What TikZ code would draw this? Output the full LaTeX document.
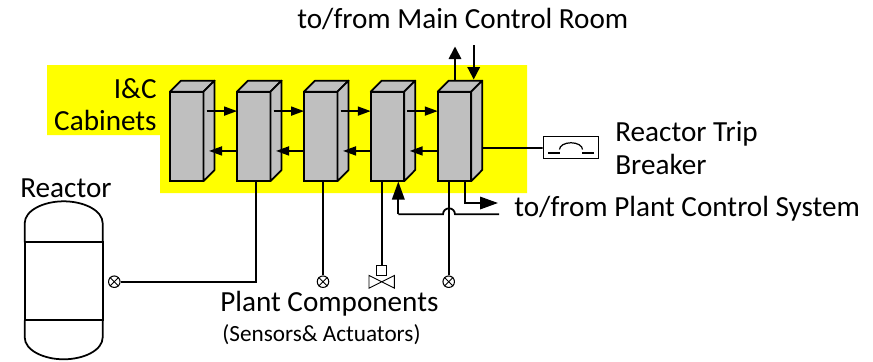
\documentclass[tikz,border=0pt]{standalone}
\usepackage{fontspec}
\setmainfont{Carlito}
\usetikzlibrary{arrows.meta}

\definecolor{cabgray}{HTML}{BFBFBF}
\definecolor{cabyellow}{HTML}{FFFF00}

\tikzset{
    cabinet/.style={draw, fill=cabgray, line width=1pt, minimum width=6.7mm,
        minimum height=17.9mm, inner sep=0pt, outer sep=0pt},
    face/.style={draw, fill=cabgray, line width=1pt, line join=round},
    wire/.style={draw, line width=1pt},
    link/.style={wire, -{Triangle[length=2.6mm,width=1.8mm]}},
    bigtip/.style={wire, -{Triangle[length=2.5mm,width=2.5mm]}},
    plant/.style={wire, -{Triangle[length=3.6mm,width=2.5mm]}},
    sensor/.style={draw, fill=white, circle, line width=0.6pt, minimum size=2.3mm, inner sep=0pt},
    thin part/.style={draw, line width=0.5pt},
    label/.style={font=\fontsize{16.6}{18.5}\selectfont, inner sep=0pt}
}

\begin{document}
\begin{tikzpicture}[x=0.2mm, y=-0.2mm, >=Triangle]

\useasboundingbox (0,0) rectangle (873,361);

% Yellow area
\fill[cabyellow] (47,65) -- (527,65) -- (527,193) -- (160,193) -- (160,135) -- (47,135) -- cycle;

% Cabinets
\foreach \i/\xc in {1/186.8, 2/253.8, 3/320.8, 4/387.5, 5/454.5} {
    \node[cabinet] (cab\i) at (\xc,136.4) {};
    \draw[face] (cab\i.north west) -- ++(11,-11) -- ++(33.5,0) -- (cab\i.north east) -- cycle;
    \draw[face] (cab\i.north east) -- ++(11,-11) -- ++(0,89.3) -- (cab\i.south east) -- cycle;
}

% Arrows between cabinets
\foreach \i/\j in {1/2, 2/3, 3/4, 4/5} {
    \coordinate (out\i) at ([yshift=25.4*0.567pt, xshift=3*0.567pt]cab\i.east);
    \coordinate (back\i) at ([yshift=-14.6*0.567pt, xshift=5.5*0.567pt]cab\i.east);
    \draw[link] (out\i) -- (out\i -| cab\j.west);
    \draw[link] (back\i -| cab\j.west) -- (back\i);
}

% To and from the control room
\coordinate (up) at (455,46.5);
\coordinate (down) at (473.7,45);
\coordinate (downend) at (473.7,79.5);
\draw[bigtip] (up |- cab5.north) ++(0,-11) -- (up);
\draw[bigtip] (down) -- (downend);

% Trip breaker
\node[thin part, minimum width=11.1mm, minimum height=4.4mm, inner sep=0pt, fill=white] (breaker) at (570.8,147) {};
\draw[wire] (cab5.east) ++(11,11.5) -- (breaker.west |- 0,148);
\draw[line width=0.7pt] (548,153) -- (560,153);
\draw[line width=0.7pt] (582,153) -- (594,153);
\draw[line width=0.7pt] (559.5,149.5) arc[start angle=180, end angle=0, x radius=2.3mm, y radius=1.35mm];

% Reactor
\node[inner sep=0pt, outer sep=0pt, minimum width=15.6mm, minimum height=15.6mm, draw, line width=1pt] (reactor) at (63.7,281.3) {};
\draw[line width=1pt] (reactor.north west) -- ++(0,-19) .. controls +(0,-13) and +(-20,0) .. ++(39,-22)
    .. controls +(20,0) and +(0,-13) .. ++(39,22) -- (reactor.north east);
\draw[line width=1pt] (reactor.south west) -- ++(0,17) .. controls +(0,13) and +(-20,0) .. ++(39,22)
    .. controls +(20,0) and +(0,13) .. ++(39,-22) -- (reactor.south east);

% Sensors and valve
\node[sensor] (sens1) at (114.3,281.7) {};
\node[sensor] (sens2) at (323,281.7) {};
\node[sensor] (sens3) at (448.7,281.7) {};
\foreach \i in {1,2,3} {
    \draw[line width=0.5pt] (sens\i.45) -- (sens\i.225);
    \draw[line width=0.5pt] (sens\i.135) -- (sens\i.-45);
}
\node[thin part, minimum size=2mm, inner sep=0pt] (act) at (381.7,270) {};
\draw[line width=0.5pt] (act.south) ++(-12.7,0) -- ++(25.4,12.7) -- ++(0,-12.7) -- ++(-25.4,12.7) -- cycle;

% Lines to the plant
\coordinate (tap2) at (256.3,181);
\draw[wire] (tap2) |- (sens1);
\draw[wire] (cab3.south -| sens2) -- (sens2);
\draw[wire] (cab4.south -| act) -- (act);
\draw[wire] (cab5.south -| sens3) -- (sens3);

% Plant control system
\coordinate (tap5) at (465,181);
\coordinate (pcsout) at (498,203);
\coordinate (pcsin) at (499,214.3);
\coordinate (feed) at (398.3,181.5);
\coordinate (hop) at (442.7,214.3);
\draw[plant] (tap5) |- (pcsout);
\draw[wire] (pcsin) -- (455,214.3) arc[start angle=0, end angle=180, radius=1.2mm] -- (398.3,214.3);
\draw[plant] (398.3,214.3) -- (feed);

% Labels
\node[label, anchor=west] (room) at (297,19) {to/from Main Control Room};
\node[label, align=right, anchor=east] (cabs) at (157,104.5) {I\&C\\Cabinets};
\node[label, align=left, anchor=west] (trip) at (615,148) {Reactor Trip\\Breaker};
\node[label, anchor=west] (pcs) at (514,209) {to/from Plant Control System};
\node[label, anchor=west] (rlabel) at (20,188) {Reactor};
\node[label, anchor=west] (comps) at (220,304) {Plant Components};
\node[label, anchor=west, font=\fontsize{13.2}{15}\selectfont] (kinds) at (222,335) {(Sensors\& Actuators)};

\end{tikzpicture}
\end{document}
